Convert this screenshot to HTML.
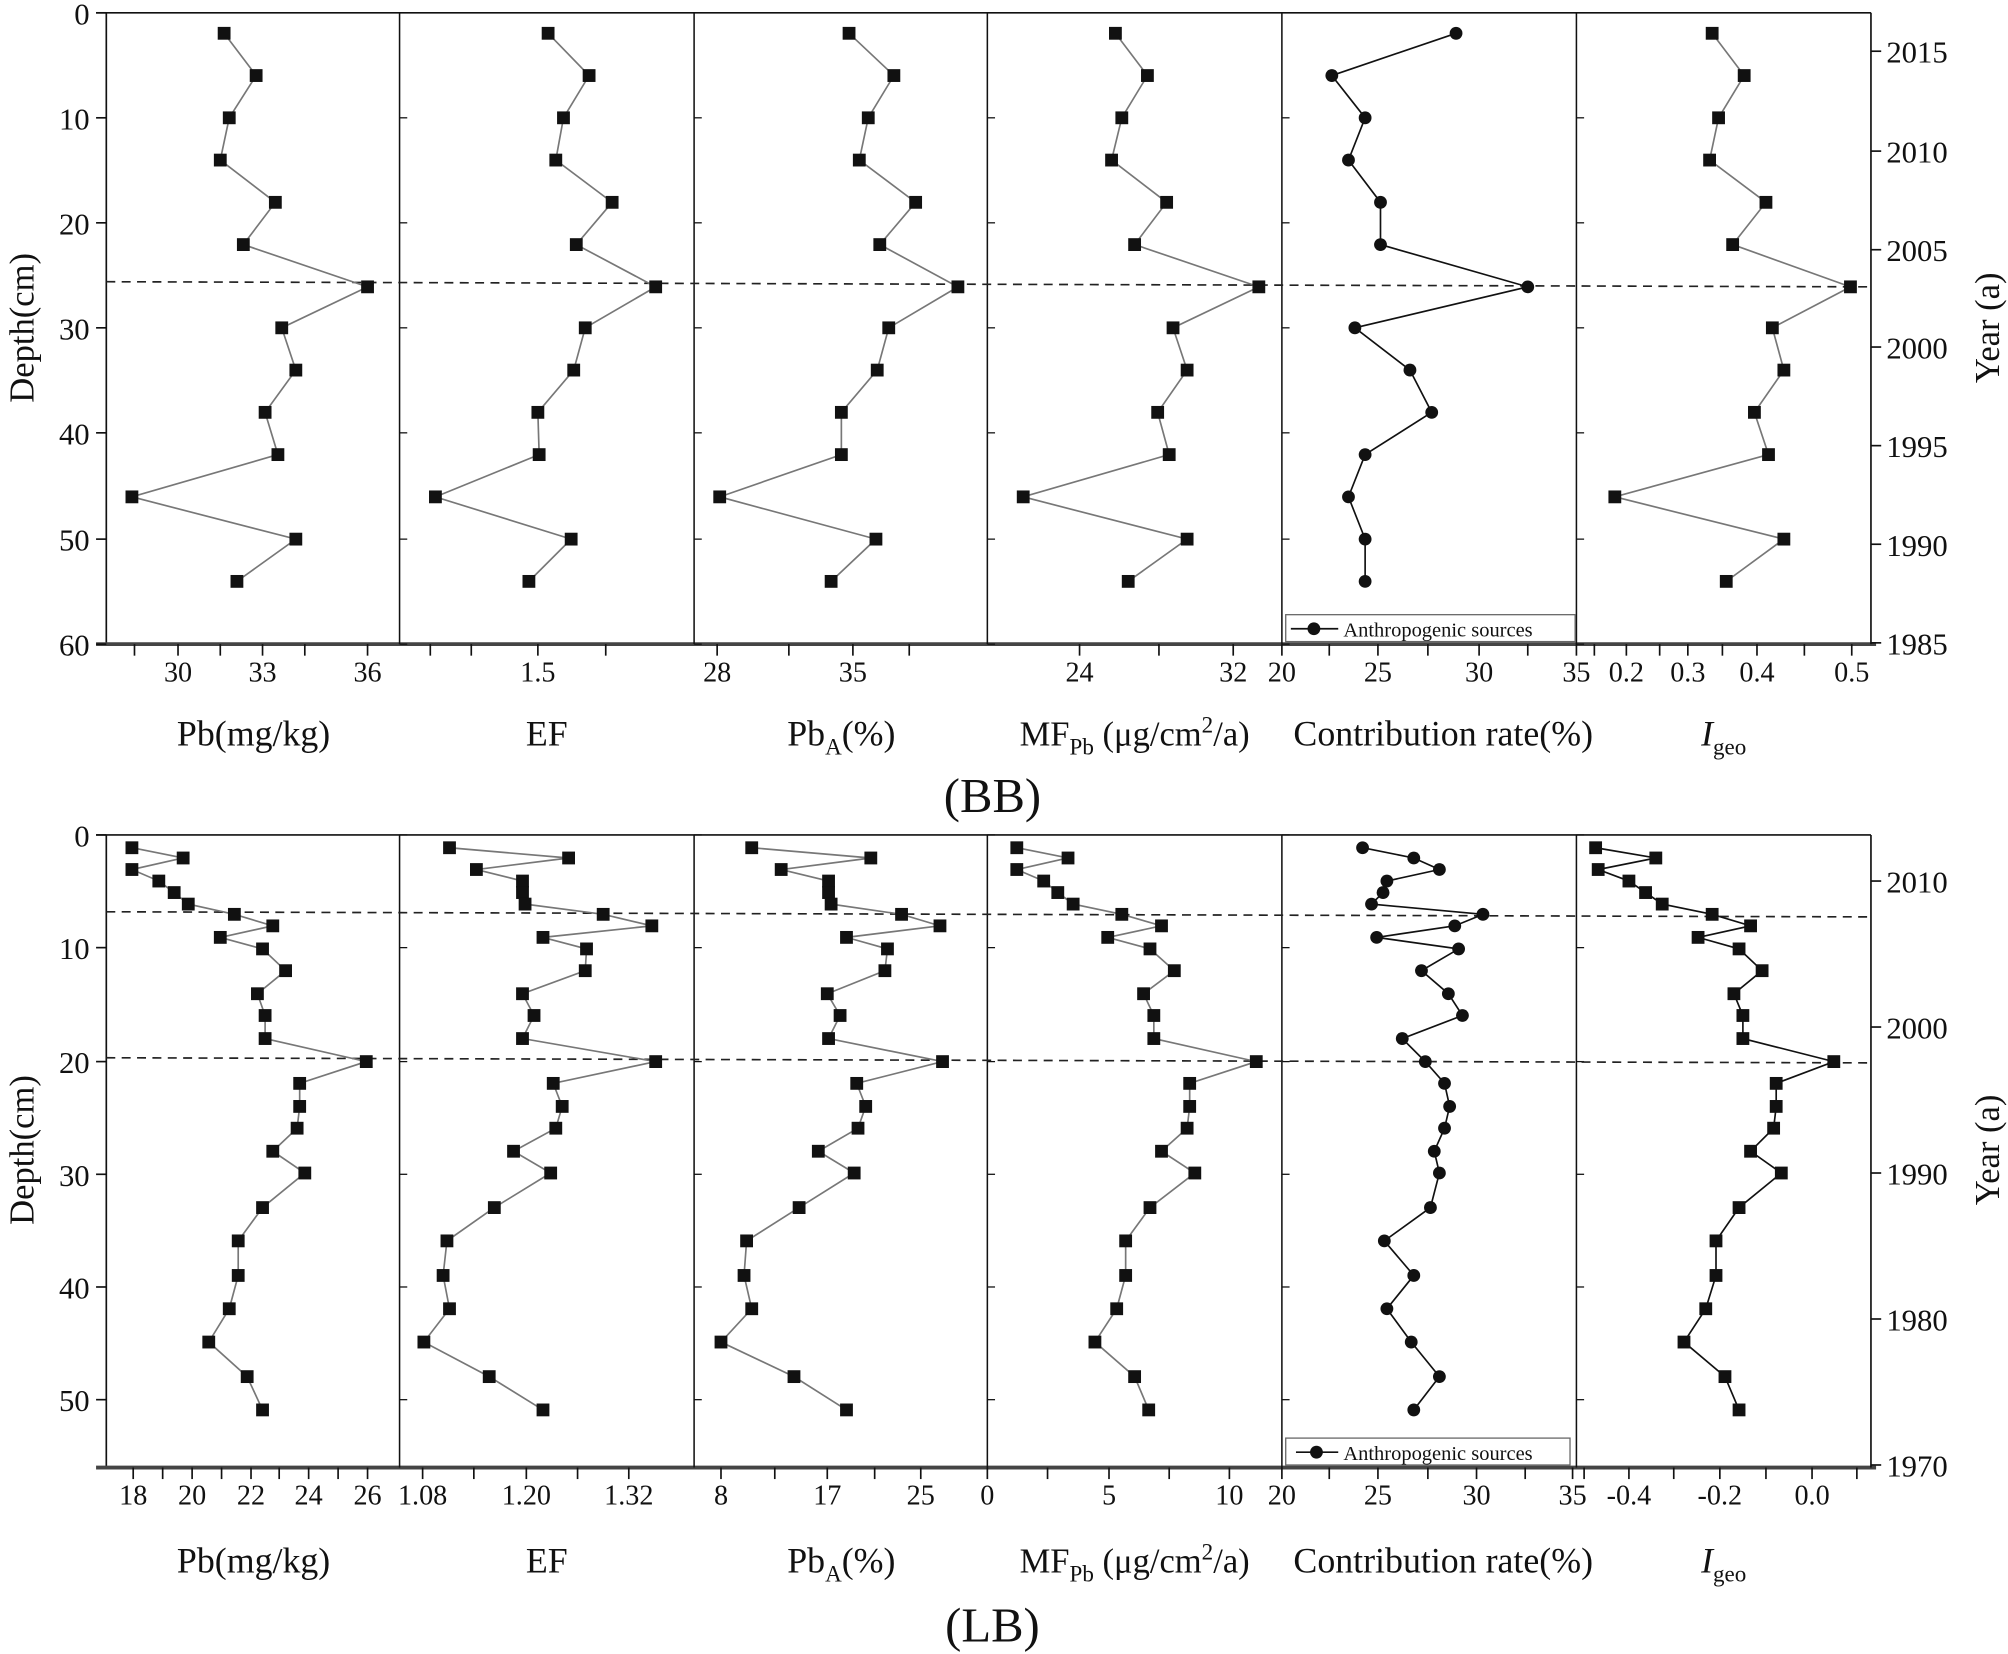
<!DOCTYPE html>
<html><head><meta charset="utf-8"><style>
html,body{margin:0;padding:0;background:#fff}
svg{display:block}
text{font-family:"Liberation Serif",serif;fill:#111}
</style></head><body>
<svg id="s" width="2008" height="1654" viewBox="0 0 1568 1291.6" xmlns="http://www.w3.org/2000/svg"></svg>
<script>
(function(){
const s=document.getElementById('s');let h='';
const X=[83,312,542,771,1001,1231,1461];
function L(x1,y1,x2,y2,c,w,d){h+=`<line x1="${x1}" y1="${y1}" x2="${x2}" y2="${y2}" stroke="${c||'#111'}" stroke-width="${w||1.3}" ${d?'stroke-dasharray="'+d+'"':''}/>`}
function T(x,y,t,sz,a,extra){h+=`<text x="${x}" y="${y}" font-size="${sz}" text-anchor="${a||'middle'}" ${extra||''}>${t}</text>`}
function frame(tp,bt,ly,ry,dash){
 L(X[0],tp,X[0],bt);L(X[0]-8,tp,X[6],tp);L(X[0]-8,bt,X[6]+4,bt,'#444',3);
 for(let i=1;i<6;i++)L(X[i],tp,X[i],bt,'#111',1.2);
 L(X[6],tp,X[6],bt);
 ly.forEach(([y,t])=>{L(X[0]-8,y,X[0],y);T(X[0]-13,y+9,t,24,'end');
  for(let i=1;i<6;i++)L(X[i],y,X[i]+6,y,'#111',1);});
 ry.forEach(([y,t])=>{L(X[6],y,X[6]+8,y);T(X[6]+12,y+9,t,24,'start');});
 dash.forEach(d=>L(X[0],d[0],X[6],d[1],'#222',1.3,'7,5'));
}
function series(pts,circ,col){
 h+=`<polyline points="${pts.map(p=>p.join(',')).join(' ')}" fill="none" stroke="${col}" stroke-width="1.3"/>`;
 pts.forEach(([x,y])=>{h+=circ?`<circle cx="${x}" cy="${y}" r="5" fill="#111"/>`:`<rect x="${x-5}" y="${y-5}" width="10" height="10" fill="#111"/>`});
}
function xt(bt,ticks,ly){ticks.forEach(([x,t])=>{L(x,bt,x,bt+9);if(t!==null)T(x,ly,t,22);});}
frame(10,503,[[10,'0'],[92,'10'],[174,'20'],[256,'30'],[338,'40'],[421,'50'],[503,'60']],
 [[40,'2015'],[118,'2010'],[195,'2005'],[271,'2000'],[348,'1995'],[425,'1990'],[502,'1985']],[[220,224]]);
const ty=[26,59,92,125,158,191,224,256,289,322,355,388,421,454];
const topData=[[175,200,179,172,215,190,287,220,231,207,217,103,231,185],
[428,460,440,434,478,450,512,457,448,420,421,340,446,413],
[663,698,678,671,715,687,748,694,685,657,657,562,684,649],
[871,896,876,868,911,886,983,916,927,904,913,799,927,881],
[1137,1040,1066,1053,1078,1078,1193,1058,1101,1118,1066,1053,1066,1066],
[1337,1362,1342,1335,1379,1353,1445,1384,1393,1370,1381,1261,1393,1348]];
topData.forEach((a,i)=>series(a.map((x,j)=>[x,ty[j]]),i==4,i==4?'#111':'#777'));
xt(503,[[105,null],[139,'30'],[172,null],[205,'33'],[238,null],[287,'36'],[336,null],[368,null],[420,'1.5'],[473,null],[560,'28'],[616,null],[666,'35'],[710,null],[843,'24'],[905,null],[963,'32'],[1001,'20'],[1038,null],[1076,'25'],[1115,null],[1155,'30'],[1193,null],[1231,'35'],[1245,null],[1270,'0.2'],[1296,null],[1318,'0.3'],[1345,null],[1372,'0.4'],[1409,null],[1446,'0.5']],532);
h+=`<rect x="1004" y="480" width="226" height="21" fill="#fff" stroke="#666" stroke-width="1"/>`;
L(1008,491,1045,491);h+=`<circle cx="1026" cy="491" r="5" fill="#111"/>`;T(1049,497,'Anthropogenic sources',16,'start');
function titles(y){
T(198,y,'Pb(mg/kg)',28);T(427,y,'EF',28);
T(657,y,'Pb<tspan font-size="18" dy="7">A</tspan><tspan dy="-7">(%)</tspan>',28);
T(886,y,'MF<tspan font-size="18" dy="7">Pb</tspan><tspan dy="-7"> (μg/cm</tspan><tspan font-size="18" dy="-10">2</tspan><tspan dy="10">/a)</tspan>',27);
T(1127,y,'Contribution rate(%)',28);
T(1346,y,'<tspan font-style="italic">I</tspan><tspan font-size="18" dy="7">geo</tspan>',28);}
titles(582);T(775,634,'(BB)',38);
h+=`<text transform="translate(26,256) rotate(-90)" font-size="27" text-anchor="middle">Depth(cm)</text>`;
h+=`<text transform="translate(1561,256) rotate(-90)" font-size="27" text-anchor="middle">Year (a)</text>`;
frame(652,1146,[[652,'0'],[740,'10'],[829,'20'],[917,'30'],[1005,'40'],[1093,'50']],
 [[688,'2010'],[802,'2000'],[916,'1990'],[1030,'1980'],[1144,'1970']],[[712,716],[826,830]]);
const by=[662,670,679,688,697,706,714,723,732,741,758,776,793,811,829,846,864,881,899,916,943,969,996,1022,1048,1075,1101];
const botData=[[103,143,103,124,136,147,183,213,172,205,223,201,207,207,286,234,234,232,213,238,205,186,186,179,163,193,205],
[351,444,372,408,408,410,471,509,424,458,457,408,417,408,512,432,439,434,401,430,386,349,346,351,331,382,424],
[587,680,610,647,647,649,704,734,661,693,691,646,656,647,736,669,676,670,639,667,624,583,581,587,563,620,661],
[794,834,794,815,826,838,876,907,865,898,917,893,901,901,981,929,929,927,907,933,898,879,879,872,855,886,897],
[1064,1104,1124,1083,1080,1071,1158,1136,1075,1139,1110,1131,1142,1095,1113,1128,1132,1128,1120,1124,1117,1081,1104,1083,1102,1124,1104],
[1246,1293,1248,1272,1285,1298,1337,1367,1326,1358,1376,1354,1361,1361,1432,1387,1387,1385,1367,1391,1358,1340,1340,1332,1315,1347,1358]];
botData.forEach((a,i)=>series(a.map((x,j)=>[x,by[j]]),i==4,i==5||i==4?'#111':'#777'));
xt(1146,[[104,'18'],[127,null],[150,'20'],[173,null],[196,'22'],[218,null],[241,'24'],[264,null],[287,'26'],[330,'1.08'],[370,null],[411,'1.20'],[451,null],[491,'1.32'],[563,'8'],[605,null],[646,'17'],[683,null],[719,'25'],[771,'0'],[818,null],[866,'5'],[913,null],[960,'10'],[1001,'20'],[1038,null],[1076,'25'],[1115,null],[1153,'30'],[1191,null],[1228,'35'],[1237,null],[1272,'-0.4'],[1307,null],[1343,'-0.2'],[1379,null],[1415,'0.0'],[1450,null]],1175);
h+=`<rect x="1004" y="1123" width="222" height="21" fill="#fff" stroke="#666" stroke-width="1"/>`;
L(1012,1134,1045,1134);h+=`<circle cx="1028" cy="1134" r="5" fill="#111"/>`;T(1049,1140,'Anthropogenic sources',16,'start');
titles(1228);T(775,1282,'(LB)',38);
h+=`<text transform="translate(26,898) rotate(-90)" font-size="27" text-anchor="middle">Depth(cm)</text>`;
h+=`<text transform="translate(1561,898) rotate(-90)" font-size="27" text-anchor="middle">Year (a)</text>`;
s.innerHTML=h;
})();
</script>
</body></html>
